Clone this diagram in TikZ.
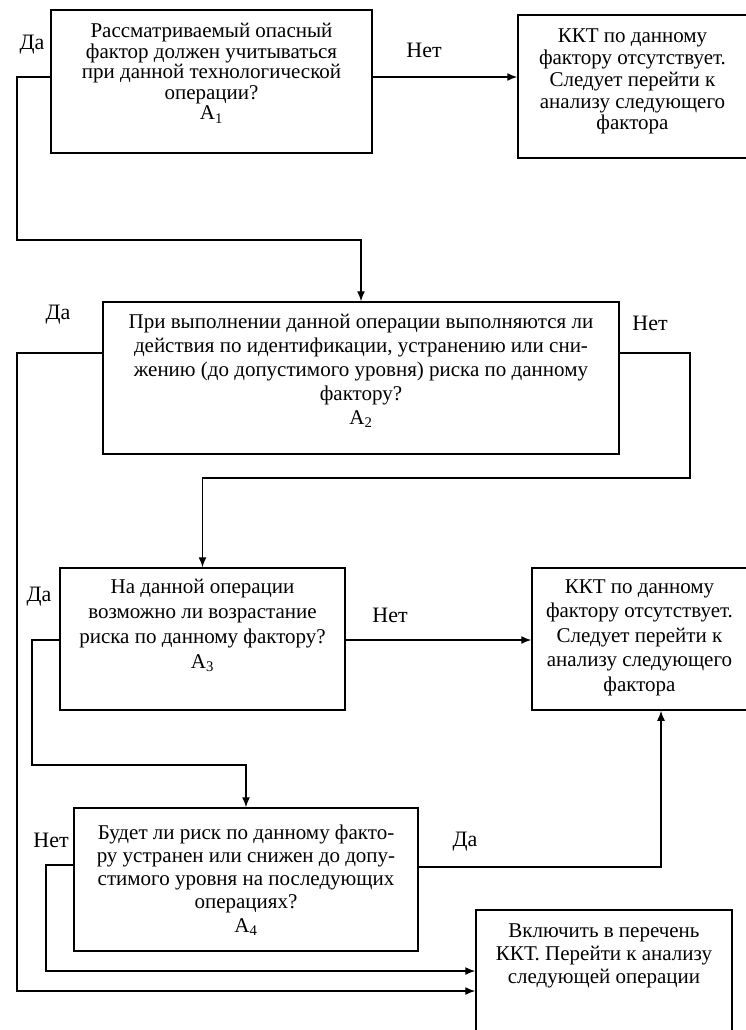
\documentclass[tikz,border=0pt]{standalone}
\usepackage{fontspec}
\setmainfont{Liberation Serif}
\usetikzlibrary{arrows.meta}

\tikzset{
  blok/.style={draw, line width=1.5pt, inner sep=0pt},
  svyaz/.style={line width=1.4pt},
  metka/.style={font=\fontsize{22}{24}\selectfont},
}
% текст блока: высота, ширина, интерлиньяж, первая строка, текст
\newcommand{\blocktext}[5]{\parbox[c][#1][t]{#2}{\centering\fontsize{21}{#3}\selectfont\rule{0pt}{#4}#5\par}}

\begin{document}
\begin{tikzpicture}[x=1pt, y=-1pt, >={Latex[length=10pt,width=8pt]}]
\useasboundingbox (0,0) rectangle (745,1030);

% блоки
\node[blok] (a1) at (211.5,81.5) {\blocktext{143pt}{321pt}{20.5pt}{28pt}{Рассматриваемый опасный\\фактор должен учитываться\\при данной технологической\\операции?\\А\textsubscript{1}}};
\node[blok] (kkt1) at (632.5,86.5) {\blocktext{143pt}{229pt}{21.7pt}{28pt}{ККТ по данному\\фактору отсутствует.\\Следует перейти к\\анализу следующего\\фактора}};
\node[blok] (a2) at (361,378) {\blocktext{152pt}{516pt}{24pt}{26pt}{При выполнении данной операции выполняются ли\\действия по идентификации, устранению или сни-\\жению (до допустимого уровня) риска по данному\\фактору?\\А\textsubscript{2}}};
\node[blok] (a3) at (202.5,639) {\blocktext{142pt}{285pt}{25pt}{25pt}{На данной операции\\возможно ли возрастание\\риска по данному фактору?\\А\textsubscript{3}}};
\node[blok] (kkt2) at (639.5,639) {\blocktext{142pt}{215pt}{24.5pt}{25pt}{ККТ по данному\\фактору отсутствует.\\Следует перейти к\\анализу следующего\\фактора}};
\node[blok] (a4) at (246,879.5) {\blocktext{143pt}{344pt}{23.3pt}{31pt}{Будет ли риск по данному факто-\\ру устранен или снижен до допу-\\стимого уровня на последующих\\операциях?\\А\textsubscript{4}}};
\node[blok] (fin) at (604,971) {\blocktext{122pt}{256pt}{23pt}{27pt}{Включить в перечень\\ККТ. Перейти к анализу\\следующей операции}};

% надписи
\node[metka] (da1) at (32,45) {Да};
\node[metka] (net1) at (424,50) {Нет};
\node[metka] (da2) at (58,315) {Да};
\node[metka] (net2) at (650,323) {Нет};
\node[metka] (da3) at (39,597) {Да};
\node[metka] (net3) at (390,615) {Нет};
\node[metka] (net4) at (51,840) {Нет};
\node[metka] (da4) at (465,842) {Да};

% связи
\draw[svyaz,->] (a1.east |- 0,77) -- (kkt1.west |- 0,77);
\draw[svyaz,->] (a1.west |- 0,77) -| (17,240) -| (a2.north);
\draw[svyaz,->] (a2.west |- 0,353) -| (17,991) -- (fin.west |- 0,991);
\draw[svyaz,->] (a2.east |- 0,353) -| (690,478) -| (a3.north);
\draw[svyaz,->] (a3.east |- 0,640) -- (kkt2.west |- 0,640);
\draw[svyaz,->] (a3.west |- 0,640) -| (32,765) -| (a4.north);
\draw[svyaz,->] (a4.east |- 0,867) -| (kkt2.south -| 661,0);
\draw[svyaz,->] (a4.west |- 0,865) -| (46,971) -- (fin.west |- 0,971);
\end{tikzpicture}
\end{document}
